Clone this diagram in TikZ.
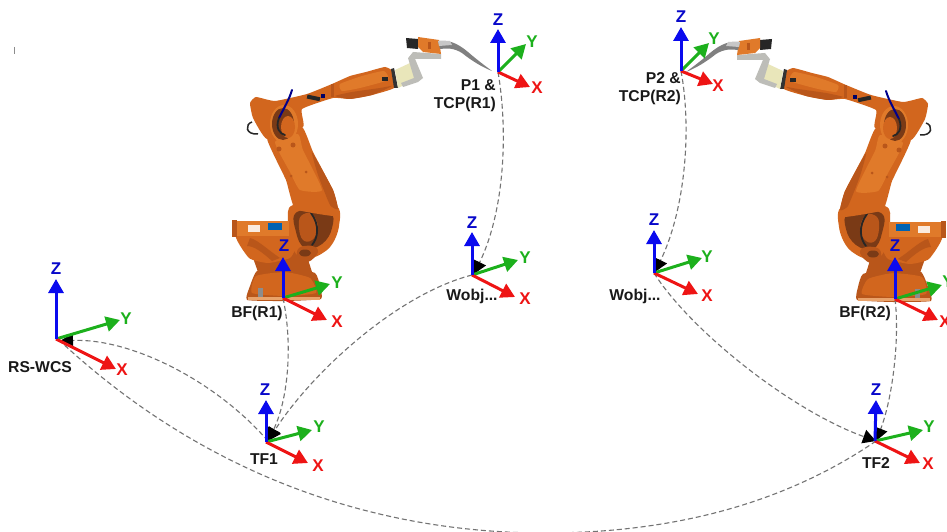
\documentclass[tikz,border=0pt]{standalone}
\usepackage{fontspec}
\setmainfont{Liberation Sans}
\usetikzlibrary{arrows.meta}
\definecolor{axz}{HTML}{0A0AEE}
\definecolor{axy}{HTML}{1CB01C}
\definecolor{axx}{HTML}{EE1414}
\definecolor{orA}{HTML}{D2661E}
\definecolor{orB}{HTML}{E07A2A}
\definecolor{orC}{HTML}{B9561A}
\definecolor{orD}{HTML}{7A3A16}
\definecolor{gbr}{HTML}{BDBDB8}
\tikzset{
  axis/.style={line width=3pt,-{Triangle[length=14pt,width=15pt]}},
  axlabel/.style={font=\bfseries\fontsize{17}{18}\selectfont,inner sep=0pt},
  caption/.style={font=\bfseries\fontsize{15.7}{18.5}\selectfont,text=black!90,inner sep=0pt},
  link/.style={dashed,dash pattern=on 5pt off 3pt,draw=black!55,line width=1.1pt,
    -{Triangle[length=13pt,width=14pt,color=black]}},
  plainlink/.style={dashed,dash pattern=on 5pt off 3pt,draw=black!55,line width=1.1pt}
}
% name, origin, z tip, y tip, x tip, z label, y label, x label
\newcommand{\axframe}[8]{%
  \coordinate (#1) at (#2);
  \coordinate (#1z) at (#3);
  \coordinate (#1y) at (#4);
  \coordinate (#1x) at (#5);
  \draw[axis,axy] (#1) -- (#1y);
  \draw[axis,axx] (#1) -- (#1x);
  \draw[axis,axz] (#1) -- (#1z);
  \node[axlabel,text=axz!85!black] (#1zl) at (#6) {Z};
  \node[axlabel,text=axy] (#1yl) at (#7) {Y};
  \node[axlabel,text=axx] (#1xl) at (#8) {X};
}
\newcommand{\robotshape}{%
  % pedestal
  \fill[orC] plot[smooth cycle,tension=.25] coordinates {(247,300) (250,286) (257,271) (285,266) (315,273) (320,286) (321,299) (285,301)};
  \fill[orA] plot[smooth cycle,tension=.3] coordinates {(252,293) (256,276) (285,272) (310,278) (316,293) (285,296)};
  \fill[black!45] (258,288) rectangle (263,297);
  \fill[orB!70!white] (248,297) rectangle (320,300);
  % turret
  \fill[orC] (252,255) -- (305,250) -- (312,272) -- (258,272) -- cycle;
  % ring at the foot of the arm
  \fill[orA] plot[smooth cycle,tension=.6] coordinates {(293,205) (335,205) (339,226) (330,247) (312,258) (298,256) (290,240) (288,222)};
  \fill[orD] plot[smooth cycle,tension=.7] coordinates {(297,212) (329,212) (332,228) (322,244) (305,248) (296,232)};
  \fill[orC] plot[smooth cycle,tension=.7] coordinates {(301,216) (312,214) (318,228) (312,240) (303,240) (299,228)};
  \draw[black!85,line width=1.8pt,line cap=round] (311,213) .. controls (320,225) and (318,238) .. (312,245);
  \fill[orC] plot[smooth cycle,tension=.7] coordinates {(299,248) (312,246) (318,252) (308,262) (298,258)};
  \fill[orD] (305,253) ellipse[x radius=6,y radius=3.5];
  % motor
  \fill[orA] plot[smooth cycle,tension=.3] coordinates {(236,234) (290,232) (296,246) (290,258) (268,263) (249,258)};
  \fill[orB] (232,221) rectangle (289,236);
  \fill[orC] (232,220) rectangle (237,237);
  \fill[orC] (250,238) .. controls (258,240) and (268,250) .. (280,258) -- (272,261) .. controls (262,252) and (254,246) .. (247,246) -- cycle;
  \fill[white!85!orB] (248,225) rectangle (260,232);
  \fill[blue!45!cyan!70!black] (268,223) rectangle (282,230);
  % long arm
  \fill[orA] plot[smooth cycle,tension=.2] coordinates {(267,138) (302,127) (313,152) (333,190) (338,209) (333,216) (295,209) (286,180)};
  \fill[orB] plot[smooth cycle,tension=.3] coordinates {(275,142) (298,134) (303,150) (322,190) (300,190) (290,172)};
  \fill[orC] (279,149) circle[radius=2.5] (293,145) circle[radius=2.5] (306,172) circle[radius=1.5] (291,176) circle[radius=1.5];
  \fill[orC] plot[smooth cycle,tension=.3] coordinates {(312,152) (333,190) (338,209) (330,205) (318,175)};
  % loop cable
  \draw[black!85,line width=1.5pt] (252,122) .. controls (245,124) and (245,135) .. (258,134);
  % forearm
  \fill[orA] plot[smooth cycle,tension=.25] coordinates {(250,103) (256,97) (275,101) (307,94) (332,84) (350,76) (366,72) (385,67) (394,72) (394,88) (372,95) (350,99) (333,98) (302,109) (303,127) (267,139) (253,118)};
  \fill[orB] plot[smooth cycle,tension=.3] coordinates {(340,84) (362,76) (384,71) (388,80) (360,88) (342,91)};
  \fill[orC] plot[smooth cycle,tension=.3] coordinates {(335,96) (352,92) (380,88) (392,86) (372,95) (350,99)};
  \fill[orC] (331,84) rectangle (334,97);
  \fill[black!85,rotate around={-12:(314,98)}] (307,96) rectangle (320,100);
  \fill[blue!40!black] (321,94) rectangle (325,98);
  \fill[black!85] (382,77) rectangle (388,81);
  % elbow window
  \fill[orB] (284,124) ellipse[x radius=14,y radius=19];
  \fill[orD] (283,124) ellipse[x radius=11,y radius=16];
  \fill[orA] (288,127) ellipse[x radius=7,y radius=11];
  \draw[blue!55!black,line width=2pt,line cap=round] (292,90) .. controls (289,100) and (284,108) .. (279,118);
  \draw[black!85,line width=1.8pt,line cap=round] (279,118) .. controls (275,128) and (280,134) .. (285,135);
  % wrist
  \fill[black!80] (391,69) -- (394,68) -- (398,88) -- (394,88) -- cycle;
  \fill[white!80!olive] (395,70) -- (410,63) -- (415,80) -- (398,88) -- cycle;
  % bracket
  \fill[gbr] (408,58) -- (413,54) -- (423,78) -- (418,82) -- (403,87) -- (401,83) -- (414,78) -- cycle;
  \fill[gbr] (409,57) -- (413,52) -- (441,54) -- (441,59) -- (413,59) -- cycle;
  % torch
  \fill[black!85] (406,38) -- (418,39) -- (418,49) -- (407,48) -- cycle;
  \fill[orB] (418,37) -- (439,40) -- (441,54) -- (423,52) -- (418,47) -- cycle;
  \fill[orC] (428,42) rectangle (431,49);
  \fill[black!50] (438,41) .. controls (448,40) and (456,42) .. (468,52) .. controls (476,59) and (484,65) .. (492,71)
     .. controls (482,67) and (472,61) .. (462,53) .. controls (454,48) and (447,48) .. (440,49) -- cycle;
  \fill[black!22] (438,41) -- (450,41) -- (452,45) -- (439,46) -- cycle;
}
\begin{document}
\begin{tikzpicture}[x=1pt,y=-1pt]
\useasboundingbox (0,0) rectangle (947,532);
\clip (0,0) rectangle (947,532);
\fill[white] (0,0) rectangle (947,532);
\draw[black!45,line width=1pt] (14,47) -- (14,54);
\begin{scope}
  \robotshape
\end{scope}
\begin{scope}[xshift=1178pt,yshift=-1pt,xscale=-1]
  \robotshape
\end{scope}
% origins for the connectors
\coordinate (rsE) at (60,341);
\coordinate (tfoE) at (268,441);
\coordinate (tftE) at (876,441);
\coordinate (woE) at (474,274);
\coordinate (wtE) at (655,272);
% connectors
\draw[plainlink] (tftE) .. controls (790,500) and (680,533) .. (545,533)
   .. controls (390,533) and (215,485) .. (rsE);
\draw[link] (tfoE) .. controls (215,380) and (130,338) .. (rsE);
\draw[link] (283,298) .. controls (293,345) and (288,400) .. (tfoE);
\draw[link] (472,275) .. controls (395,295) and (310,375) .. (tfoE);
\draw[link] (498,72) .. controls (508,130) and (505,210) .. (woE);
\draw[link] (681,71) .. controls (692,130) and (685,210) .. (wtE);
\draw[link] (654,273) .. controls (690,330) and (790,410) .. (tftE);
\draw[link] (895,299) .. controls (900,340) and (892,400) .. (tftE);
% frames
\axframe{rs}{56,339}{56,279}{120,320}{116,369}{56,269}{126,319}{122,370}
\axframe{tfo}{266,442}{266,400}{312,430}{308,463}{265,390}{319,427}{318,466}
\axframe{bfo}{283,298}{283,257}{330,284}{327,320}{284,246}{337,283}{337,322}
\axframe{woo}{472,275}{472,232}{518,260}{515,297}{472,223}{525,258}{525,299}
\axframe{po}{498,72}{498,29}{526,44}{530,87}{498,20}{532,42}{537,88}
\axframe{pt}{681,71}{681,27}{709,43}{713,84}{681,17}{714,39}{718,86}
\axframe{wot}{654,273}{654,230}{702,258}{698,294}{654,220}{707,257}{707,296}
\axframe{bft}{895,299}{895,257}{942,285}{938,320}{895,246}{948,282}{945,322}
\axframe{tft}{875,441}{876,400}{923,430}{920,463}{876,390}{929,427}{928,464}
% captions
\node[caption] (rsc) at (40,367) {RS-WCS};
\node[caption] (tfoc) at (264,459) {TF1};
\node[caption] (tftc) at (876,463) {TF2};
\node[caption] (bfoc) at (257,313) {BF(R1)};
\node[caption] (bftc) at (865,313) {BF(R2)};
\node[caption] (wooc) at (472,296) {Wobj...};
\node[caption] (wotc) at (635,296) {Wobj...};
\node[caption,align=right,anchor=north east] (poc) at (496,79) {P1 \&\\TCP(R1)};
\node[caption,align=right,anchor=north east] (ptc) at (681,72) {P2 \&\\TCP(R2)};
\end{tikzpicture}
\end{document}
